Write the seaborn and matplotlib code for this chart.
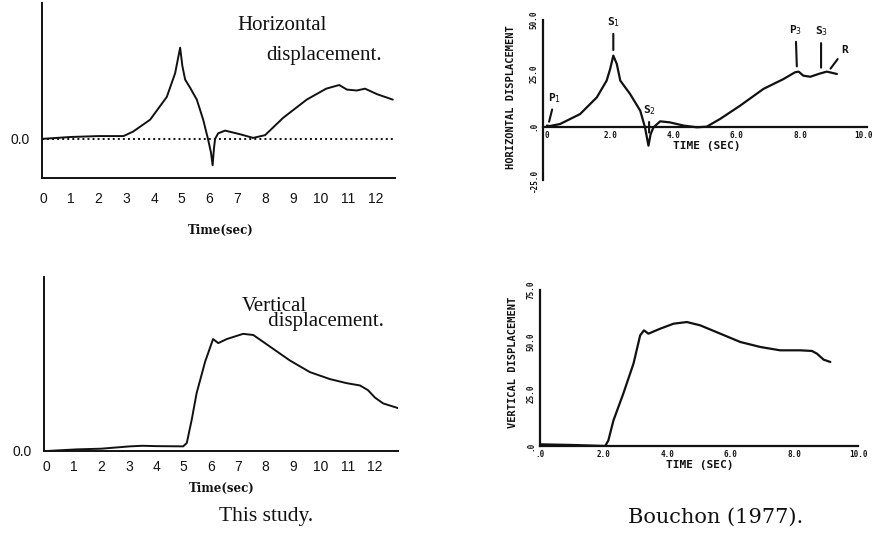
import numpy as np
import matplotlib
matplotlib.use("Agg")
import matplotlib.pyplot as plt
import seaborn as sns

# ---- this study: horizontal displacement (normalised to the S1 peak)
h_time = [0, 1, 2, 2.9, 3.25, 3.86, 4.46, 4.76, 4.94, 5.02, 5.12, 5.3, 5.54, 5.77,
          5.95, 6.05, 6.11, 6.16, 6.2, 6.31, 6.56, 7.1, 7.57, 8.0, 8.65, 9.5,
          10.2, 10.67, 10.95, 11.3, 11.6, 12.03, 12.6]
h_disp = [0, 0.02, 0.03, 0.03, 0.08, 0.21, 0.46, 0.72, 1.0, 0.8, 0.65, 0.56, 0.43, 0.21,
          -0.01, -0.15, -0.29, -0.1, 0.0, 0.06, 0.09, 0.05, 0.01, 0.04, 0.23, 0.43,
          0.55, 0.59, 0.54, 0.53, 0.55, 0.49, 0.43]

# ---- this study: vertical displacement
v_time = [0, 1.1, 2.0, 3.04, 3.5, 4.0, 4.99, 5.12, 5.3, 5.48, 5.79, 6.08, 6.27, 6.58,
          7.18, 7.55, 8.16, 8.89, 9.62, 10.35, 10.96, 11.45, 11.74, 12.0, 12.3, 12.84]
v_disp = [0, 0.014, 0.02, 0.04, 0.045, 0.042, 0.04, 0.07, 0.27, 0.5, 0.77, 0.965, 0.93, 0.965,
          1.01, 1.0, 0.9, 0.78, 0.68, 0.62, 0.585, 0.565, 0.525, 0.46, 0.41, 0.37]

# ---- Bouchon (1977): horizontal displacement
bh_time = [0, 0.1, 0.42, 1.05, 1.58, 1.89, 2.0, 2.1, 2.21, 2.32, 2.63, 2.95, 3.1, 3.21,
           3.28, 3.37, 3.58, 3.89, 4.32, 4.74, 5.05, 5.47, 6.1, 6.84, 7.47, 7.84,
           7.95, 8.1, 8.32, 8.6, 8.84, 9.16]
bh_disp = [0.5, 0.3, 1.25, 5.9, 13.75, 21.6, 27.0, 33.3, 29.4, 21.6, 15.3, 7.5, -0.3, -8.9,
           -3.4, -0.3, 2.5, 2.0, 0.5, -0.3, 0, 3.6, 9.8, 17.7, 22.3, 25.5,
           25.8, 23.9, 23.4, 24.8, 25.8, 24.7]

# ---- Bouchon (1977): vertical displacement
bv_time = [0, 1.0, 2.05, 2.15, 2.31, 2.62, 2.94, 3.15, 3.27, 3.41, 3.78, 4.2, 4.62,
           5.04, 5.67, 6.3, 6.93, 7.55, 8.18, 8.55, 8.71, 8.92, 9.13]
bv_disp = [0.8, 0.5, 0, 2.7, 12.3, 25.2, 39.6, 53.2, 55.6, 54, 56.4, 58.8, 59.6,
           58, 54, 50, 47.6, 46, 46, 45.7, 44.4, 41.5, 40.4]

study_ticks = list(range(13))
bouchon_xticks = [0, 2, 4, 6, 8, 10]
bh_xlabels = ["0", "2.0", "4.0", "6.0", "8.0", "10.0"]
bv_xlabels = [".0", "2.0", "4.0", "6.0", "8.0", "10.0"]
bh_yticks = [-25, 0, 25, 50]
bh_ylabels = ["-25.0", ".0", "25.0", "50.0"]
bv_yticks = [0, 25, 50, 75]
bv_ylabels = [".0", "25.0", "50.0", "75.0"]

# wave arrivals marked on Bouchon's horizontal trace
arr_labels = ["P$_1$", "S$_1$", "S$_2$", "P$_3$", "S$_3$", "R"]
arr_times = [0.04, 2.1, 3.23, 7.9, 8.66, 8.88]

sns.set_style("white")
plt.rcParams["font.family"] = ["DejaVu Sans"]

W, H = 880, 546
fig = plt.figure(figsize=(W / 100, H / 100), dpi=100)


def rect(x0, y0, x1, y1):
    # pixel box (top-left origin) -> figure fraction
    return [x0 / W, 1 - y1 / H, (x1 - x0) / W, (y1 - y0) / H]


def ftext(x, y, s, **kw):
    fig.text(x / W, 1 - y / H, s, **kw)


ink = "#111111"
sans = ["Liberation Sans", "DejaVu Sans"]
serif = ["DejaVu Serif"]
times = ["Liberation Serif", "DejaVu Serif"]
mono = ["DejaVu Sans Mono"]

# ---------------- this study, horizontal
ax1 = fig.add_axes(rect(42, 3, 395, 178))
sns.lineplot(x=h_time, y=h_disp, ax=ax1, color=ink, lw=1.4, estimator=None, sort=False)
ax1.axhline(0, color=ink, ls=(0, (1, 1.6)), lw=1.4)
ax1.set_xlim(-0.036, 12.68)
ax1.set_ylim(-0.43, 1.49)
ax1.set_xticks(study_ticks)
ax1.set_yticks([0])
ax1.set_yticklabels(["0.0"])
ax1.tick_params(axis="x", direction="out", length=4, width=1.2, pad=6, labelsize=10,
                color=ink, labelcolor=ink)
ax1.tick_params(axis="y", direction="out", length=5, width=1.2, pad=4, labelsize=10,
                color=ink, labelcolor=ink)
for lab in ax1.get_xticklabels() + ax1.get_yticklabels():
    lab.set_family(sans)

# ---------------- this study, vertical
ax2 = fig.add_axes(rect(44, 277, 398, 451))
sns.lineplot(x=v_time, y=v_disp, ax=ax2, color=ink, lw=1.4, estimator=None, sort=False)
ax2.set_xlim(-0.1, 12.84)
ax2.set_ylim(0, 1.5)
ax2.set_xticks(study_ticks)
ax2.set_yticks([0])
ax2.set_yticklabels(["0.0"])
ax2.tick_params(axis="x", direction="inout", length=7, width=1.2, pad=3, labelsize=10,
                color=ink, labelcolor=ink)
ax2.tick_params(axis="y", direction="out", length=5, width=1.2, pad=4, labelsize=10,
                color=ink, labelcolor=ink)
for lab in ax2.get_xticklabels() + ax2.get_yticklabels():
    lab.set_family(sans)

for ax in (ax1, ax2):
    ax.set_xlabel("")
    ax.set_ylabel("")
    for s in ("top", "right"):
        ax.spines[s].set_visible(False)
    for s in ("left", "bottom"):
        ax.spines[s].set_linewidth(1.4)
        ax.spines[s].set_color(ink)

# ---------------- Bouchon, horizontal
ax3 = fig.add_axes(rect(543, 20, 867, 180))
sns.lineplot(x=bh_time, y=bh_disp, ax=ax3, color=ink, lw=1.6, estimator=None, sort=False)
ax3.set_xlim(-0.12, 10.11)
ax3.set_ylim(-25, 50)
ax3.spines["bottom"].set_position(("data", 0))

# ---------------- Bouchon, vertical
ax4 = fig.add_axes(rect(540, 290, 858, 446))
sns.lineplot(x=bv_time, y=bv_disp, ax=ax4, color=ink, lw=1.6, estimator=None, sort=False)
ax4.set_xlim(0, 10.0)
ax4.set_ylim(0, 75)

for ax, xl, yt, yl in ((ax3, bh_xlabels, bh_yticks, bh_ylabels),
                       (ax4, bv_xlabels, bv_yticks, bv_ylabels)):
    ax.set_xlabel("")
    ax.set_ylabel("")
    ax.set_xticks(bouchon_xticks)
    ax.set_xticklabels(xl, family=mono, weight="bold", fontsize=5.5)
    ax.set_yticks(yt)
    ax.set_yticklabels(yl, family=mono, weight="bold", fontsize=5.5, rotation=90, va="center")
    ax.tick_params(axis="x", direction="in", length=4, width=1.3, pad=3, color=ink,
                   labelcolor=ink)
    ax.tick_params(axis="y", direction="in", length=5, width=1.3, pad=3, color=ink,
                   labelcolor=ink)
    for s in ("top", "right"):
        ax.spines[s].set_visible(False)
    for s in ("left", "bottom"):
        ax.spines[s].set_linewidth(1.6)
        ax.spines[s].set_color(ink)

# arrival markers (label offset in points, gap to the trace in points)
arr_style = [(5, 20, 3), (0, 24, 4), (0, 23, 7), (-1, 30, 4), (0, 30, 4), (12, 16, 3)]
for lab, t, (dx, dy, gap) in zip(arr_labels, arr_times, arr_style):
    y = float(np.interp(t, bh_time, bh_disp))
    ax3.annotate(lab, xy=(t, y), xytext=(dx, dy), textcoords="offset points",
                 ha="center", va="center", family=mono, weight="bold", fontsize=8,
                 color=ink,
                 arrowprops=dict(arrowstyle="-", lw=1.5, color=ink, shrinkA=1, shrinkB=gap))

# ---------------- text
ftext(237, 30, "Horizontal", family=times, fontsize=15, color=ink, va="baseline")
ftext(266, 60, "displacement.", family=times, fontsize=15, color=ink, va="baseline")
# tightly stacked two-line label, kept as one text
ftext(242, 297, "Vertical\n     displacement.", family=times, fontsize=15, color=ink,
      va="top", ha="left", linespacing=0.72)

ftext(221, 230, "Time(sec)", family=serif, fontsize=8.5, weight="bold", color=ink,
      ha="center", va="center")
ftext(222, 488, "Time(sec)", family=serif, fontsize=8.5, weight="bold", color=ink,
      ha="center", va="center")

ftext(511, 97, "HORIZONTAL DISPLACEMENT", family=mono, weight="bold", fontsize=7.5,
      rotation=90, ha="center", va="center", color=ink)
ftext(513, 362, "VERTICAL DISPLACEMENT", family=mono, weight="bold", fontsize=7.5,
      rotation=90, ha="center", va="center", color=ink)
ftext(707, 146, "TIME (SEC)", family=mono, weight="bold", fontsize=8,
      ha="center", va="center", color=ink)
ftext(700, 465, "TIME (SEC)", family=mono, weight="bold", fontsize=8,
      ha="center", va="center", color=ink)

ftext(266, 517, "This study.", family=times, fontsize=15.5, color=ink,
      ha="center", va="center")
ftext(716, 517, "Bouchon (1977).", family=serif, fontsize=15, color=ink,
      ha="center", va="center")

fig.savefig("out.png", dpi=100, facecolor="white")
